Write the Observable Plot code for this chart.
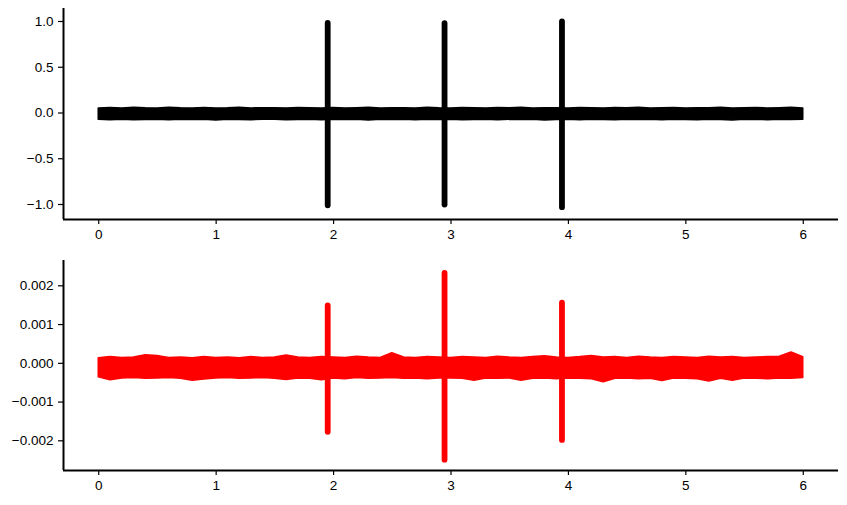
<!DOCTYPE html>
<html>
<head>
<meta charset="utf-8">
<script src="https://cdn.jsdelivr.net/npm/d3@7"></script>
<script src="https://cdn.jsdelivr.net/npm/@observablehq/plot@0.6"></script>
<style>
  html, body { margin: 0; padding: 0; background: white; }
  #chart svg { display: block; }
  #chart svg text { font-family: 'Liberation Sans', Arial, sans-serif !important; font-size: 13.5px !important; fill: black; }
</style>
</head>
<body>
<div id="chart"></div>
<script>
// Sample times (s) at which the noise envelope was read
const times = [0.0,0.1,0.2,0.3,0.4,0.5,0.6,0.7,0.8,0.9,1.0,1.1,1.2,1.3,1.4,1.5,1.6,1.7,1.8,1.9,
  2.0,2.1,2.2,2.3,2.4,2.5,2.6,2.7,2.8,2.9,3.0,3.1,3.2,3.3,3.4,3.5,3.6,3.7,3.8,3.9,
  4.0,4.1,4.2,4.3,4.4,4.5,4.6,4.7,4.8,4.9,5.0,5.1,5.2,5.3,5.4,5.5,5.6,5.7,5.8,5.9,6.0];

// Top panel: noise envelope (black signal)
const topUpper = [0.050,0.055,0.050,0.058,0.052,0.050,0.056,0.051,0.050,0.054,0.050,0.052,0.057,0.050,0.053,0.051,0.050,0.055,0.052,0.050,
  0.054,0.050,0.052,0.056,0.050,0.053,0.051,0.050,0.057,0.052,0.050,0.054,0.051,0.050,0.055,0.052,0.058,0.050,0.053,0.051,
  0.050,0.055,0.052,0.050,0.054,0.051,0.057,0.050,0.052,0.055,0.050,0.053,0.051,0.058,0.050,0.052,0.055,0.050,0.053,0.056,0.050];
const topLower = [-0.075,-0.078,-0.074,-0.080,-0.076,-0.075,-0.079,-0.074,-0.077,-0.075,-0.082,-0.075,-0.076,-0.078,-0.074,-0.075,-0.080,-0.076,-0.075,-0.078,
  -0.074,-0.077,-0.075,-0.081,-0.075,-0.076,-0.074,-0.079,-0.075,-0.077,-0.075,-0.078,-0.076,-0.074,-0.080,-0.075,-0.077,-0.075,-0.083,-0.076,
  -0.075,-0.078,-0.074,-0.076,-0.080,-0.075,-0.077,-0.075,-0.079,-0.074,-0.076,-0.078,-0.075,-0.077,-0.081,-0.075,-0.076,-0.078,-0.074,-0.077,-0.075];

// Bottom panel: noise envelope (red signal)
const botUpper = [0.00013,0.00016,0.00014,0.00015,0.00021,0.00019,0.00014,0.00015,0.00013,0.00016,0.00014,0.00015,0.00013,0.00016,0.00014,0.00015,0.00020,0.00015,0.00014,0.00016,
  0.00015,0.00014,0.00017,0.00015,0.00014,0.00026,0.00015,0.00014,0.00016,0.00015,0.00014,0.00016,0.00015,0.00014,0.00017,0.00015,0.00014,0.00016,0.00018,0.00015,
  0.00014,0.00016,0.00019,0.00015,0.00016,0.00014,0.00017,0.00015,0.00014,0.00016,0.00015,0.00014,0.00017,0.00015,0.00016,0.00014,0.00015,0.00016,0.00017,0.00028,0.00016];
const botLower = [-0.00036,-0.00044,-0.00039,-0.00038,-0.00040,-0.00039,-0.00038,-0.00040,-0.00045,-0.00042,-0.00039,-0.00038,-0.00040,-0.00039,-0.00038,-0.00040,-0.00043,-0.00039,-0.00040,-0.00044,
  -0.00039,-0.00041,-0.00038,-0.00040,-0.00039,-0.00038,-0.00040,-0.00039,-0.00041,-0.00039,-0.00039,-0.00040,-0.00045,-0.00039,-0.00040,-0.00039,-0.00045,-0.00040,-0.00039,-0.00041,
  -0.00039,-0.00040,-0.00041,-0.00049,-0.00040,-0.00039,-0.00041,-0.00040,-0.00046,-0.00039,-0.00040,-0.00041,-0.00047,-0.00040,-0.00045,-0.00039,-0.00040,-0.00041,-0.00039,-0.00040,-0.00038];

// Bursts
const spikeTimes = [1.95, 2.945, 3.945];
const topSpikeMax = [0.980, 0.977, 0.995];
const topSpikeMin = [-1.014, -1.006, -1.035];
const botSpikeMax = [0.00148, 0.00232, 0.00155];
const botSpikeMin = [-0.00178, -0.00250, -0.00199];

// Ticks
const xTicks = [0, 1, 2, 3, 4, 5, 6];
const topYTicks = [-1.0, -0.5, 0.0, 0.5, 1.0];
const botYTicks = [-0.002, -0.001, 0.000, 0.001, 0.002];

const xDomain = [-0.3, 6.3];
const topYDomain = [-1.164, 1.142];
const botYDomain = [-0.002766, 0.002653];

const band = (lo, hi) => times.map((t, i) => ({t, lo: lo[i], hi: hi[i]}));
const spikes = (mx, mn) => spikeTimes.map((t, i) => ({t, mx: mx[i], mn: mn[i]}));

const style = {fontFamily: "'Liberation Sans', Arial, sans-serif", fontSize: "13.5px", background: "white", color: "black", overflow: "visible"};

function panel({height, marginTop, marginBottom, yDomain, yTicks, yFormat, lo, hi, mx, mn, color}) {
  return Plot.plot({
    width: 847, height, marginTop, marginBottom, marginLeft: 63, marginRight: 9,
    style,
    x: {domain: xDomain},
    y: {domain: yDomain},
    marks: [
      Plot.areaY(band(lo, hi), {x: "t", y1: "lo", y2: "hi", fill: color, stroke: color, strokeWidth: 1.5, strokeLinejoin: "round"}),
      Plot.ruleX(spikes(mx, mn), {x: "t", y1: "mn", y2: "mx", stroke: color, strokeWidth: 5.8, strokeLinecap: "round"}),
      Plot.axisX({ticks: xTicks, tickFormat: "d", tickSize: 5, tickPadding: 5, strokeWidth: 1.2, label: null}),
      Plot.axisY({ticks: yTicks, tickFormat: yFormat, tickSize: 5, tickPadding: 5, strokeWidth: 1.2, label: null}),
      Plot.ruleX([xDomain[0]], {stroke: "black", strokeWidth: 2}),
      Plot.ruleY([yDomain[0]], {stroke: "black", strokeWidth: 2})
    ]
  });
}

const chart = document.getElementById("chart");
chart.append(panel({height: 250, marginTop: 8, marginBottom: 31, yDomain: topYDomain, yTicks: topYTicks, yFormat: ".1f",
  lo: topLower, hi: topUpper, mx: topSpikeMax, mn: topSpikeMin, color: "black"}));
chart.append(panel({height: 255, marginTop: 10, marginBottom: 35, yDomain: botYDomain, yTicks: botYTicks, yFormat: ".3f",
  lo: botLower, hi: botUpper, mx: botSpikeMax, mn: botSpikeMin, color: "#ff0000"}));
</script>
</body>
</html>
